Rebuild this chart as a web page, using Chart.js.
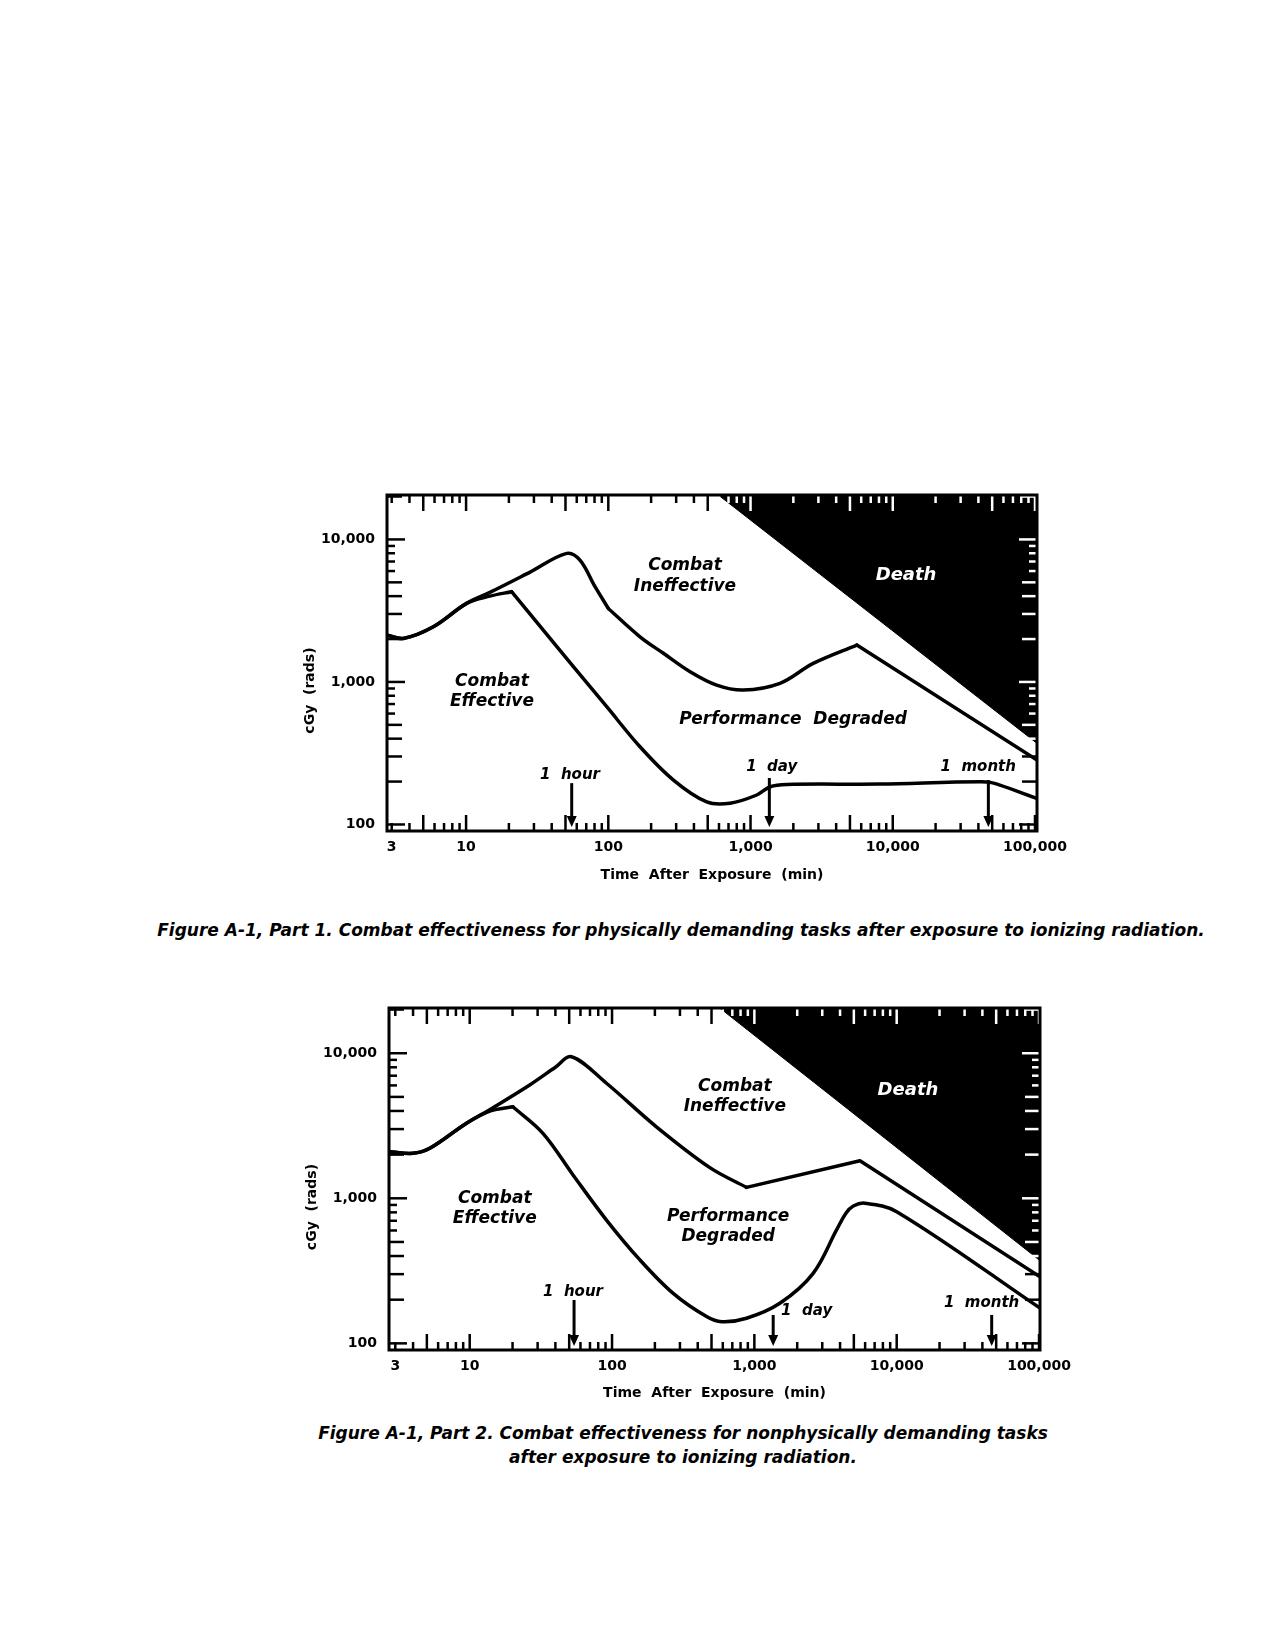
<!DOCTYPE html>
<html>
<head>
<meta charset="utf-8">
<title>Figure A-1. Combat effectiveness after exposure to ionizing radiation</title>
<script src="https://cdn.jsdelivr.net/npm/chart.js@4.4.1/dist/chart.umd.min.js"></script>
<style>
  body { margin: 0; background: #fff; }
  #page { position: relative; width: 1281px; height: 1652px; background: #fff; overflow: hidden; }
  canvas { position: absolute; left: 0; }
  #c1 { top: 440px; }
  #c2 { top: 960px; }
  .caption {
    position: absolute; transform: translateX(-50%); white-space: nowrap; text-align: center;
    font: italic bold 17px "DejaVu Sans"; line-height: 24px; color: #000;
  }
</style>
</head>
<body>
<div id="page">
  <canvas id="c1" width="1281" height="470"></canvas>
  <canvas id="c2" width="1281" height="460"></canvas>
  <div class="caption" style="left:681px; top:918px;">Figure A-1, Part 1. Combat effectiveness for physically demanding tasks after exposure to ionizing radiation.</div>
  <div class="caption" style="left:683px; top:1421px;">Figure A-1, Part 2. Combat effectiveness for nonphysically demanding tasks<br>after exposure to ionizing radiation.</div>
</div>
<script>
// tick labels shared by both parts
const xTickValues = [3, 10, 100, 1000, 10000, 100000];
const yTickValues = [100, 1000, 10000];
const yRange = [90, 20500];

// Part 1 - physically demanding tasks (time in min, dose in cGy)
const p1Range = [2.78, 103300];
const p1UpperX = [2.78, 3.62, 5.89, 10.1, 14.7, 28.2, 51, 63.2, 80.7, 100];
const p1UpperY = [2130, 2020, 2440, 3560, 4250, 5900, 7980, 7160, 4660, 3280];
const p1UpperMidX = [100, 167, 244, 376, 578, 889, 1610, 2760, 5590];
const p1UpperMidY = [3280, 2075, 1590, 1180, 950, 877, 978, 1350, 1815];
const p1UpperTailX = [5590, 103300];
const p1UpperTailY = [1815, 283];
const p1LowerX = [2.78, 3.62, 5.89, 10.1, 14.7, 20.9];
const p1LowerY = [2130, 2020, 2440, 3560, 4000, 4300];
const p1LowerTailX = [20.9, 34.9, 56.8, 97.5, 167, 287, 492, 718, 1106, 1372, 1800, 8130, 45700, 56700, 103300];
const p1LowerTailY = [4300, 2310, 1280, 670, 351, 205, 144, 141, 161, 184, 191, 192, 199, 189, 152];
const p1DeathX = [594, 103300];
const p1DeathY = [20500, 371];

// Part 2 - nonphysically demanding tasks
const p2Range = [2.71, 101600];
const p2UpperX = [2.71, 3.99, 5.24, 9.5, 14.5, 26.4, 40, 51.9, 91.4, 205, 490, 881];
const p2UpperY = [2096, 2042, 2210, 3290, 4200, 6040, 8000, 9460, 6210, 3110, 1620, 1190];
const p2UpperTailX = [881, 5520, 101600];
const p2UpperTailY = [1190, 1815, 288];
const p2LowerX = [2.71, 3.99, 5.24, 9.5, 14, 20.1];
const p2LowerY = [2096, 2042, 2210, 3290, 4000, 4275];
const p2LowerTailX = [20.1, 32.7, 53.2, 91.4, 157, 269, 461, 590, 881, 1510, 2590, 3780, 4400, 4960, 5980, 10000, 101600];
const p2LowerTailY = [4275, 2805, 1448, 708, 376, 221, 153, 141, 149, 189, 304, 605, 790, 885, 925, 809, 175];
const p2DeathX = [571, 101600];
const p2DeathY = [20500, 372];

// time markers: x = time (min), top = dose where the arrow starts
const p1Arrows = [{x: 55.3, top: 195}, {x: 1356, top: 212}, {x: 47000, top: 205}];
const p2Arrows = [{x: 54.1, top: 199}, {x: 1356, top: 157}, {x: 46500, top: 157}];

const p1Labels = [
  {text: ['Combat', 'Ineffective'], x: 346, y: 5530},
  {text: ['Death'], x: 12400, y: 5630, color: '#fff', size: 18},
  {text: ['Combat', 'Effective'], x: 15.2, y: 853},
  {text: ['Performance  Degraded'], x: 1990, y: 547},
  {text: ['1  hour'], x: 53.8, y: 222, size: 15},
  {text: ['1  day'], x: 1410, y: 254, size: 15},
  {text: ['1  month'], x: 39900, y: 251, size: 15}
];
const p2Labels = [
  {text: ['Combat', 'Ineffective'], x: 729, y: 5020},
  {text: ['Death'], x: 12000, y: 5570, color: '#fff', size: 18},
  {text: ['Combat', 'Effective'], x: 15, y: 853},
  {text: ['Performance', 'Degraded'], x: 655, y: 637},
  {text: ['1  hour'], x: 53.2, y: 227, size: 15},
  {text: ['1  day'], x: 2330, y: 168, size: 15},
  {text: ['1  month'], x: 39500, y: 189, size: 15}
];

const pts = (xs, ys) => xs.map((x, i) => ({x: x, y: ys[i]}));
const axisFont = {family: 'DejaVu Sans', size: 14, weight: 'bold'};

function curve(xs, ys, smooth) {
  return {
    data: pts(xs, ys), borderColor: '#000', borderWidth: 3.5, pointRadius: 0, fill: false,
    borderCapStyle: 'round', borderJoinStyle: 'round',
    tension: smooth ? 0.35 : 0
  };
}

const decorate = {
  id: 'decorate',
  beforeDraw(chart) {
    const c = chart.ctx;
    c.save();
    c.fillStyle = '#fff';
    c.fillRect(0, 0, chart.width, chart.height);
    c.restore();
  },
  afterDatasetsDraw(chart, args, opts) {
    const {ctx, chartArea: a, scales: {x, y}} = chart;
    const line = (x0, y0, x1, y1) => { ctx.beginPath(); ctx.moveTo(x0, y0); ctx.lineTo(x1, y1); ctx.stroke(); };
    ctx.save();
    ctx.lineWidth = 2.5;

    // inward tick marks on all four sides
    for (let e = 0; e <= 5; e++) {
      for (let m = 1; m <= 9; m++) {
        const v = m * Math.pow(10, e);
        if (v <= x.min || v >= x.max) continue;
        const px = x.getPixelForValue(v);
        const len = (m === 1 || m === 5) ? 16 : 8;
        ctx.strokeStyle = '#000';
        line(px, a.bottom, px, a.bottom - len);
        ctx.strokeStyle = v > opts.deathX[0] ? '#fff' : '#000';
        line(px, a.top, px, a.top + len);
      }
    }
    for (let e = 1; e <= 4; e++) {
      for (let m = 1; m <= 9; m++) {
        const v = m * Math.pow(10, e);
        if (v <= y.min || v >= y.max) continue;
        const py = y.getPixelForValue(v);
        const len = m === 1 ? 18 : (m <= 5 ? 15 : 8);
        ctx.strokeStyle = '#000';
        line(a.left, py, a.left + len, py);
        ctx.strokeStyle = v > opts.deathY[1] ? '#fff' : '#000';
        line(a.right, py, a.right - len, py);
      }
    }

    // frame
    ctx.strokeStyle = '#000';
    ctx.lineWidth = 3;
    ctx.strokeRect(a.left, a.top, a.right - a.left, a.bottom - a.top);

    // time arrows
    ctx.fillStyle = '#000';
    opts.arrows.forEach(ar => {
      const px = x.getPixelForValue(ar.x);
      const tip = a.bottom - 4;
      ctx.lineWidth = 3;
      line(px, y.getPixelForValue(ar.top), px, tip - 8);
      ctx.beginPath();
      ctx.moveTo(px - 5, tip - 11);
      ctx.lineTo(px + 5, tip - 11);
      ctx.lineTo(px, tip);
      ctx.closePath();
      ctx.fill();
    });

    // region and marker labels
    ctx.textAlign = 'center';
    ctx.textBaseline = 'middle';
    opts.labels.forEach(lb => {
      const size = lb.size || 17;
      const lh = size * 1.2;
      ctx.font = 'italic bold ' + size + 'px "DejaVu Sans"';
      ctx.fillStyle = lb.color || '#000';
      const cx = x.getPixelForValue(lb.x);
      const cy = y.getPixelForValue(lb.y) - (lb.text.length - 1) * lh / 2;
      lb.text.forEach((t, i) => ctx.fillText(t, cx, cy + i * lh));
    });

    // y-axis title
    ctx.font = 'bold 14px "DejaVu Sans"';
    ctx.fillStyle = '#000';
    ctx.translate(a.left - 77, a.top + 0.582 * (a.bottom - a.top));
    ctx.rotate(-Math.PI / 2);
    ctx.fillText('cGy  (rads)', 0, 0);
    ctx.restore();
  }
};

function makeChart(id, d) {
  return new Chart(document.getElementById(id), {
    type: 'line',
    data: {datasets: d.datasets},
    options: {
      responsive: false,
      animation: false,
      devicePixelRatio: 1,
      layout: {padding: {top: d.padTop, right: d.padRight, left: 0, bottom: 0}},
      plugins: {
        legend: {display: false},
        tooltip: {enabled: false},
        decorate: {deathX: d.deathX, deathY: d.deathY, arrows: d.arrows, labels: d.labels}
      },
      scales: {
        x: {
          type: 'logarithmic', min: d.range[0], max: d.range[1],
          afterBuildTicks: s => { s.ticks = xTickValues.map(v => ({value: v})); },
          afterFit: s => { s.height = d.xHeight; },
          grid: {display: false, drawTicks: false},
          border: {display: false},
          ticks: {autoSkip: false, maxRotation: 0, padding: 8, color: '#000', font: axisFont,
                  callback: v => Number(v).toLocaleString('en-US')},
          title: {display: true, text: 'Time  After  Exposure  (min)', color: '#000', font: axisFont,
                  padding: {top: 0, bottom: d.titlePad}}
        },
        y: {
          type: 'logarithmic', min: yRange[0], max: yRange[1],
          afterBuildTicks: s => { s.ticks = yTickValues.map(v => ({value: v})); },
          afterFit: s => { s.width = d.yWidth; },
          grid: {display: false, drawTicks: false},
          border: {display: false},
          ticks: {autoSkip: false, padding: 12, color: '#000', font: axisFont,
                  callback: v => Number(v).toLocaleString('en-US')}
        }
      }
    },
    plugins: [decorate]
  });
}

makeChart('c1', {
  range: p1Range, padTop: 55, padRight: 244, yWidth: 387, xHeight: 79, titlePad: 26,
  deathX: p1DeathX, deathY: p1DeathY, arrows: p1Arrows, labels: p1Labels,
  datasets: [
    {data: pts(p1DeathX, p1DeathY), borderColor: '#000', borderWidth: 1, backgroundColor: '#000',
     fill: 'end', pointRadius: 0, tension: 0},
    curve(p1UpperX, p1UpperY, true),
    curve(p1UpperMidX, p1UpperMidY, true),
    curve(p1UpperTailX, p1UpperTailY, false),
    curve(p1LowerX, p1LowerY, true),
    curve(p1LowerTailX, p1LowerTailY, true)
  ]
});

makeChart('c2', {
  range: p2Range, padTop: 48, padRight: 241, yWidth: 389, xHeight: 70, titlePad: 18,
  deathX: p2DeathX, deathY: p2DeathY, arrows: p2Arrows, labels: p2Labels,
  datasets: [
    {data: pts(p2DeathX, p2DeathY), borderColor: '#000', borderWidth: 1, backgroundColor: '#000',
     fill: 'end', pointRadius: 0, tension: 0},
    curve(p2UpperX, p2UpperY, true),
    curve(p2UpperTailX, p2UpperTailY, false),
    curve(p2LowerX, p2LowerY, true),
    curve(p2LowerTailX, p2LowerTailY, true)
  ]
});
</script>
</body>
</html>
